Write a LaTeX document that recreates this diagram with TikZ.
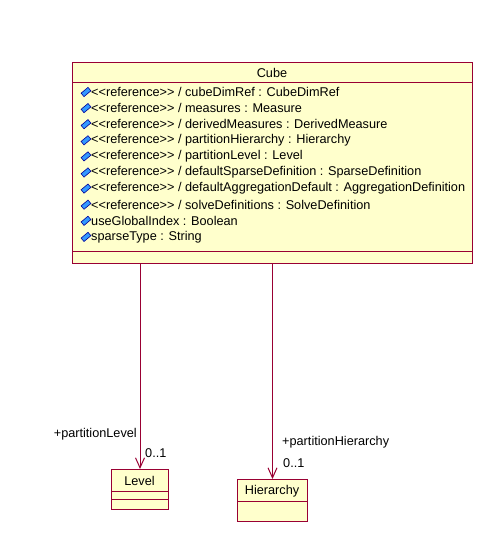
\documentclass[tikz,border=0pt]{standalone}
\usepackage{fontspec}
\setmainfont{Liberation Sans}[Ligatures=TeXOff]
\usepackage{tikz}
\usetikzlibrary{arrows.meta,positioning,calc}

\definecolor{umlline}{RGB}{153,0,51}
\definecolor{umlfill}{RGB}{255,255,204}
\definecolor{iconblue}{RGB}{51,153,255}

\begin{document}
\begin{tikzpicture}[x=1pt, y=-1pt, >={Straight Barb[length=10pt,width=9pt]},
  classbox/.style={draw=umlline, fill=umlfill, line width=1pt, inner sep=0pt},
  txt/.style={inner sep=0pt, font=\fontsize{12.7}{14}\selectfont},
  assoc/.style={->, draw=umlline, line width=1pt},
  attricon/.style={draw=blue!60!black, fill=iconblue, line width=0.6pt,
    minimum width=9pt, minimum height=4.5pt, inner sep=0pt, rotate=40}]

\useasboundingbox (0,0) rectangle (496,545);

% -------------------------------------------------------
% 1. Class Cube
% -------------------------------------------------------
\node[classbox, anchor=north west, minimum width=400pt, minimum height=201pt] (cube) at (72,62) {};
\draw[umlline, line width=1pt] ([yshift=-21pt]cube.north west) -- ([yshift=-21pt]cube.north east);
\draw[umlline, line width=1pt] ([yshift=13pt]cube.south west) -- ([yshift=13pt]cube.south east);
\node[txt] (cubename) at (272,73) {Cube};

% attributes, one row every 16pt
\foreach \attr [count=\i from 0] in {%
  {<<reference>> / cubeDimRef : CubeDimRef},
  {<<reference>> / measures : Measure},
  {<<reference>> / derivedMeasures : DerivedMeasure},
  {<<reference>> / partitionHierarchy : Hierarchy},
  {<<reference>> / partitionLevel : Level},
  {<<reference>> / defaultSparseDefinition : SparseDefinition},
  {<<reference>> / defaultAggregationDefault : AggregationDefinition},
  {<<reference>> / solveDefinitions : SolveDefinition},
  {useGlobalIndex : Boolean},
  {sparseType : String}} {
  \node[attricon] (icon\i) at (86,{92+16.1*\i}) {};
  \node[txt, anchor=west] (attr\i) at (91,{92+16.1*\i}) {\attr};
}

% -------------------------------------------------------
% 2. Classes Level and Hierarchy
% -------------------------------------------------------
\node[classbox, anchor=north west, minimum width=57pt, minimum height=40pt] (level) at (111,469) {};
\draw[umlline, line width=1pt] ([yshift=-22pt]level.north west) -- ([yshift=-22pt]level.north east);
\draw[umlline, line width=1pt] ([yshift=-30pt]level.north west) -- ([yshift=-30pt]level.north east);
\node[txt] (levelname) at (139.5,481) {Level};

\node[classbox, anchor=north west, minimum width=70pt, minimum height=42pt] (hierarchy) at (237,479) {};
\draw[umlline, line width=1pt] ([yshift=-22pt]hierarchy.north west) -- ([yshift=-22pt]hierarchy.north east);
\node[txt] (hierarchyname) at (272,491) {Hierarchy};

% -------------------------------------------------------
% 3. Associations
% -------------------------------------------------------
\draw[assoc] (cube.south -| level.north) -- (level.north);
\draw[assoc] (cube.south -| hierarchy.north) -- (hierarchy.north);

\node[txt, anchor=east] (rolelevel) at (137,434) {+partitionLevel};
\node[txt, anchor=west] (multlevel) at (145,453) {0..1};
\node[txt, anchor=west] (rolehier) at (282,442) {+partitionHierarchy};
\node[txt, anchor=west] (multhier) at (283,463) {0..1};

\end{tikzpicture}
\end{document}
